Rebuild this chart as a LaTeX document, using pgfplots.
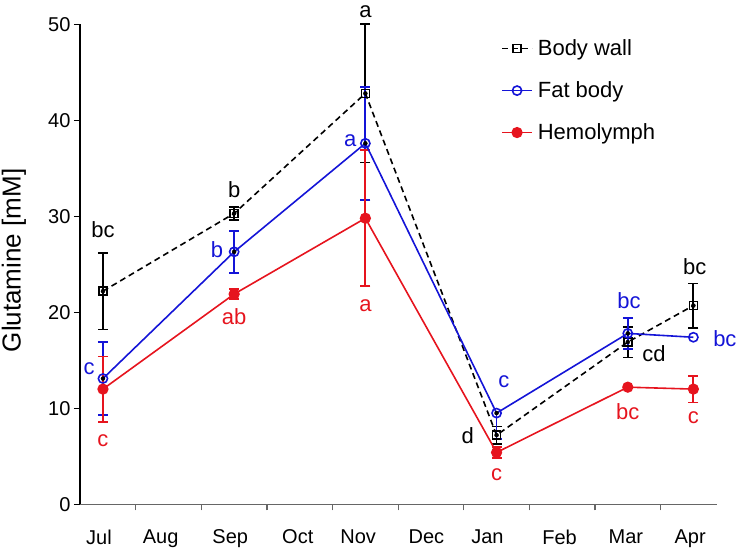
\documentclass[border=0pt]{standalone}
\usepackage{pgfplots}
\pgfplotsset{compat=1.18}
\usepackage{pgfplotstable}
\usepackage{fontspec}
\setmainfont{Liberation Sans}
\definecolor{cblue}{RGB}{20,20,215}
\definecolor{cred}{RGB}{230,20,30}
\tikzset{lab/.style={font=\fontsize{22}{26}\selectfont}}

\pgfplotstableread{
x y e
0 22.2 4.0
2 30.3 0.7
4 42.8 7.2
6 7.2 0.9
8 16.9 1.6
9 20.7 2.3
}\bodywall

\pgfplotstableread{
x y e
0 13.1 3.8
2 26.3 2.2
4 37.6 5.9
6 9.5 0.0
8 17.8 1.6
9 17.4 0.0
}\fatbody

\pgfplotstableread{
x y e
0 12.0 3.4
2 21.9 0.5
4 29.8 7.1
6 5.4 0.6
8 12.2 0.0
9 12.0 1.4
}\hemo

\begin{document}
\begin{tikzpicture}
\begin{axis}[
  name=ax,
  scale only axis, width=637pt, height=480pt,
  xmin=-0.35, xmax=9.36, ymin=0, ymax=50,
  axis lines=left,
  axis line style={-, line width=1.3pt},
  x axis line style={black!60},
  clip=false,
  xtick={-0.06,0.88,1.94,2.97,3.89,4.93,5.86,6.96,7.97,8.95},
  xticklabels={Jul,Aug,Sep,Oct,Nov,Dec,Jan,Feb,Mar,Apr},
  minor xtick={0.5,1.5,...,8.5},
  ytick={0,10,...,50},
  tick align=outside,
  major x tick style={draw=none},
  minor x tick style={black!60, line width=1.3pt},
  minor tick length=6pt,
  major tick length=6pt,
  y tick style={black, line width=1.3pt},
  tick label style={font=\fontsize{20}{24}\selectfont},
  xticklabel style={yshift=-16pt},
  /pgf/number format/assume math mode=true,
  ylabel={Glutamine [mM]},
  ylabel style={at={(axis description cs:-0.1036,0.508)}, anchor=center, font=\fontsize{26}{30}\selectfont},
  legend style={at={(axis description cs:0.661,0.972)}, anchor=north west, draw=none, fill=none,
    font=\fontsize{22}{26}\selectfont, row sep=20.5pt, inner sep=0pt,
    /tikz/every odd column/.append style={column sep=3pt}},
  legend cell align=left,
  legend image code/.code={\draw[mark repeat=2, mark phase=2] plot coordinates {(0pt,0pt)(15pt,0pt)(30pt,0pt)};},
]
% error bars
\addplot[forget plot, only marks, mark=none,
  error bars/.cd, y dir=both, y explicit,
  error bar style={black, line width=1.8pt},
  error mark options={rotate=90, mark size=5pt, line width=1.8pt, black}]
  table[x=x, y=y, y error=e] {\bodywall};
\addplot[forget plot, only marks, mark=none,
  error bars/.cd, y dir=both, y explicit,
  error bar style={cblue, line width=1.8pt},
  error mark options={rotate=90, mark size=5pt, line width=1.8pt, cblue}]
  coordinates {(0,13.1) +- (0,3.8) (2,26.3) +- (0,2.2) (4,37.6) +- (0,5.9) (8,17.8) +- (0,1.6)};
\addplot[forget plot, only marks, mark=none,
  error bars/.cd, y dir=minus, y explicit,
  error bar style={cblue, line width=1.8pt},
  error mark options={rotate=90, mark size=5pt, line width=1.8pt, cblue}]
  coordinates {(6,9.5) +- (0,2.7)};
\addplot[forget plot, only marks, mark=none,
  error bars/.cd, y dir=both, y explicit,
  error bar style={cred, line width=1.8pt},
  error mark options={rotate=90, mark size=5pt, line width=1.8pt, cred}]
  coordinates {(0,12.0) +- (0,3.4) (2,21.9) +- (0,0.5) (4,29.8) +- (0,7.1) (6,5.4) +- (0,0.6) (9,12.0) +- (0,1.4)};

% lines
\addplot[black, line width=1.6pt, dash pattern=on 6pt off 4pt,
  mark=square, mark size=4pt, mark options={solid, fill=white, line width=1.5pt}]
  table[x=x, y=y] {\bodywall};
\addlegendentry{Body wall}
\addplot[cblue, line width=1.6pt,
  mark=o, mark size=4.6pt, mark options={solid, fill=white, line width=1.6pt}]
  table[x=x, y=y] {\fatbody};
\addlegendentry{Fat body}
\addplot[cred, line width=1.6pt,
  mark=*, mark size=4.8pt, mark options={solid, fill=cred, draw=cred}]
  table[x=x, y=y] {\hemo};
\addlegendentry{Hemolymph}

% significance letters
\node[lab, black] at (axis cs:0,28.6) {bc};
\node[lab, black] at (axis cs:2,32.8) {b};
\node[lab, black] at (axis cs:4,51.3) {a};
\node[lab, black] at (axis cs:5.56,7.2) {d};
\node[lab, black] at (axis cs:8.40,15.7) {cd};
\node[lab, black] at (axis cs:9.02,24.8) {bc};

\node[lab, cblue] at (axis cs:-0.21,14.1) {c};
\node[lab, cblue] at (axis cs:1.74,26.5) {b};
\node[lab, cblue] at (axis cs:3.77,37.9) {a};
\node[lab, cblue] at (axis cs:6.11,12.8) {c};
\node[lab, cblue] at (axis cs:8.02,21.2) {bc};
\node[lab, cblue] at (axis cs:9.48,17.3) {bc};

\node[lab, cred] at (axis cs:0,6.6) {c};
\node[lab, cred] at (axis cs:2,19.5) {ab};
\node[lab, cred] at (axis cs:4,20.7) {a};
\node[lab, cred] at (axis cs:6,3.05) {c};
\node[lab, cred] at (axis cs:8,9.65) {bc};
\node[lab, cred] at (axis cs:9,9.0) {c};
\end{axis}
\pgfresetboundingbox
\path[use as bounding box] ([shift={(-80pt,-48.7pt)}]ax.south west) rectangle ([shift={(659pt,504.3pt)}]ax.south west);
\end{tikzpicture}
\end{document}
